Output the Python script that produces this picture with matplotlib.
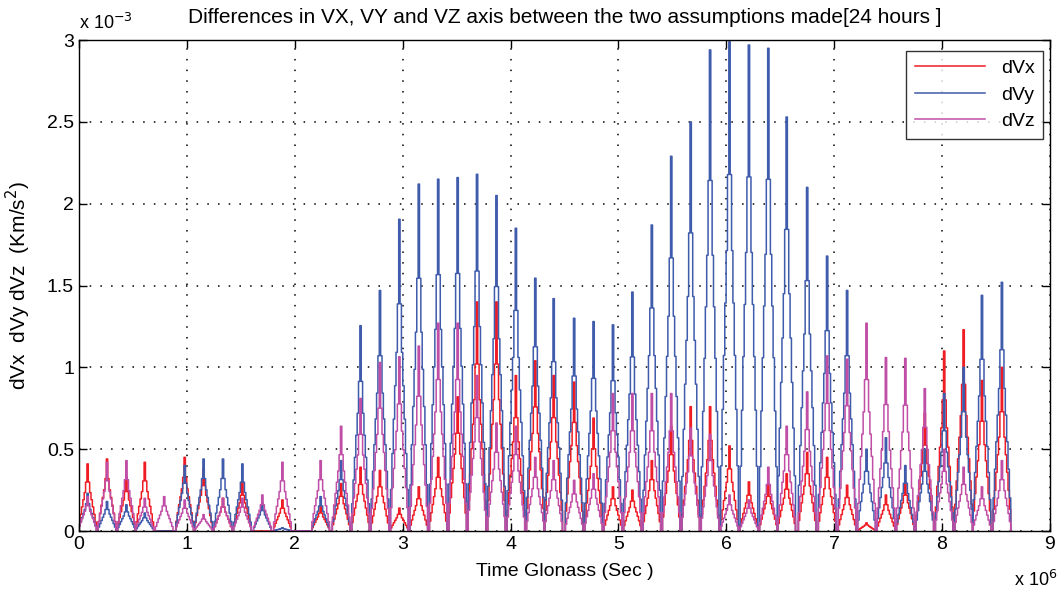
import numpy as np
import matplotlib
matplotlib.use('Agg')
import matplotlib.pyplot as plt
from matplotlib.ticker import FuncFormatter, MultipleLocator

plt.rcParams['font.family'] = ['Liberation Sans', 'DejaVu Sans']

# peak times of the daily humps (x 1e6 sec) and peak heights (x 1e-3 Km/s^2)
peak_t = [0.08, 0.26, 0.44, 0.61, 0.79, 0.98, 1.155, 1.335, 1.515, 1.70, 1.886,
          2.24, 2.43, 2.61, 2.79, 2.97, 3.15, 3.33, 3.51, 3.69, 3.87, 4.05, 4.23,
          4.40, 4.59, 4.77, 4.95, 5.13, 5.31, 5.49, 5.67, 5.85, 6.03, 6.21, 6.39,
          6.56, 6.75, 6.935, 7.12, 7.30, 7.48, 7.66, 7.84, 8.02, 8.20, 8.37, 8.555]

dvx = [0.41, 0.44, 0.33, 0.42, 0.0, 0.45, 0.38, 0.20, 0.30, 0.0, 0.19,
       0.15, 0.29, 0.39, 0.37, 0.14, 0.27, 0.45, 0.82, 1.40, 1.40, 0.95, 1.04,
       0.95, 0.91, 0.69, 0.27, 0.25, 0.43, 0.64, 0.76, 0.76, 0.52, 0.30, 0.29,
       0.35, 0.48, 0.45, 0.28, 0.05, 0.22, 0.30, 0.72, 1.10, 1.23, 0.92, 1.00]

dvy = [0.23, 0.18, 0.16, 0.11, 0.0, 0.40, 0.44, 0.44, 0.41, 0.17, 0.02,
       0.21, 0.43, 1.255, 1.47, 1.905, 2.12, 2.15, 2.16, 2.18, 2.05, 1.85, 1.545,
       1.42, 1.30, 1.28, 1.26, 1.46, 1.87, 2.29, 2.50, 2.94, 2.99, 2.97, 2.95,
       2.53, 2.10, 1.68, 1.47, 0.50, 0.57, 0.40, 0.50, 0.84, 1.00, 1.44, 1.52]

dvz = [0.21, 0.42, 0.43, 0.20, 0.21, 0.19, 0.10, 0.20, 0.20, 0.22, 0.42,
       0.43, 0.64, 0.81, 1.03, 1.065, 1.13, 1.27, 1.27, 0.95, 0.66, 0.64, 0.45,
       0.43, 0.31, 0.35, 0.84, 0.84, 0.84, 0.84, 0.63, 0.59, 0.22, 0.19, 0.39,
       0.64, 0.85, 1.07, 1.05, 1.27, 1.06, 1.055, 0.87, 0.50, 0.39, 0.27, 0.43]

# shape of one hump (relative distance from the peak -> relative height)
prof_u = [0, 0.1, 0.25, 0.45, 0.65, 0.85, 1.0]
prof_f = [1, 0.78, 0.6, 0.45, 0.3, 0.14, 0]
half_w = 0.088e6
n_side = 7


def humps(times, heights):
    k = np.arange(-n_side, n_side + 1)
    shape = np.interp(np.abs(k) / n_side, prof_u, prof_f)
    xs, ys = [], []
    for t, h in zip(times, heights):
        xs.append(t * 1e6 + k * half_w / n_side)
        ys.append(h * 1e-3 * shape)
    return np.concatenate(xs), np.concatenate(ys)


fig = plt.figure(figsize=(10.6, 5.9), dpi=100)
ax = fig.add_axes([0.0745, 0.1, 0.916, 0.832])

colors = {'dVx': '#f01c24', 'dVy': '#3f5bab', 'dVz': '#c04ea6'}
for name, vals in [('dVx', dvx), ('dVy', dvy), ('dVz', dvz)]:
    x, y = humps(peak_t, vals)
    ax.plot(x, y, color=colors[name], lw=1.1, drawstyle='steps-mid', label=name)

ax.set_xlim(0, 9e6)
ax.set_ylim(0, 3e-3)
ax.xaxis.set_major_locator(MultipleLocator(1e6))
ax.yaxis.set_major_locator(MultipleLocator(0.5e-3))
ax.xaxis.set_major_formatter(FuncFormatter(lambda v, p: '%g' % round(v / 1e6, 3)))
ax.yaxis.set_major_formatter(FuncFormatter(lambda v, p: '%g' % round(v * 1e3, 3)))
ax.tick_params(direction='in', length=6, width=1, top=True, right=True, labelsize=14)
ax.grid(True, color='black', linestyle=(0, (1, 6)), linewidth=1.1)
for s in ax.spines.values():
    s.set_linewidth(1)

ax.set_title('Differences in VX, VY and VZ axis between the two assumptions made[24 hours ]',
             fontsize=15, pad=12)
ax.set_xlabel('Time Glonass (Sec )', fontsize=14, labelpad=7)
ax.set_ylabel('dVx  dVy dVz  (Km/s$^2$)', fontsize=15, labelpad=10)
ax.text(0.0, 1.015, 'x 10$^{-3}$', transform=ax.transAxes, fontsize=13, va='bottom', ha='left')
ax.text(1.008, -0.1, 'x 10$^{6}$', transform=ax.transAxes, fontsize=13, va='center', ha='right')

leg = ax.legend(loc='upper right', fontsize=14, frameon=True, fancybox=False,
                edgecolor='black', borderpad=0.45, handlelength=3.6, borderaxespad=0,
                labelspacing=0.45, bbox_to_anchor=(0.993, 0.978))
leg.get_frame().set_linewidth(1)

fig.savefig('out.png', dpi=100)
